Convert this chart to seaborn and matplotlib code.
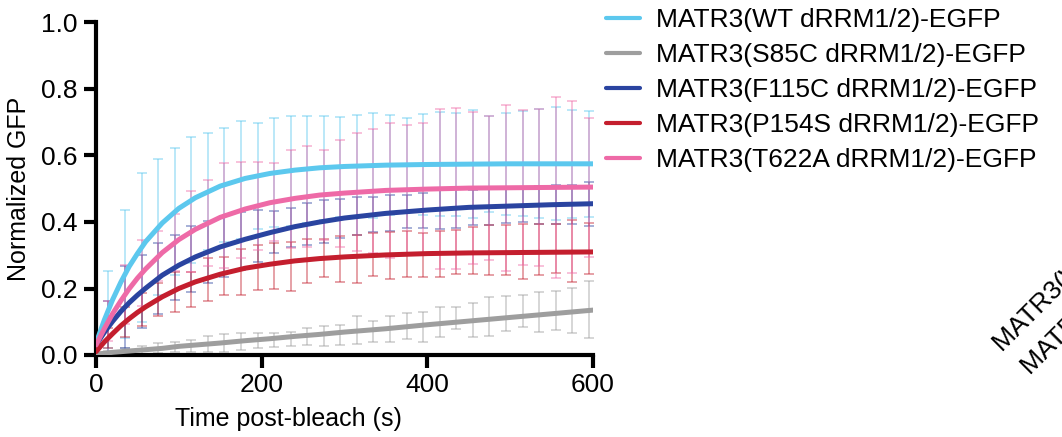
#!/usr/bin/env python3

import pandas as pd
from matplotlib import pyplot as plt
from matplotlib.ticker import FormatStrFormatter
import seaborn as sns


time_title = "Time post-bleach (s)"
gfp_title = "Normalized GFP"
construct_title = "Construct"

constructs = [
    "MATR3(WT dRRM1/2)-EGFP",
    "MATR3(S85C dRRM1/2)-EGFP",
    "MATR3(F115C dRRM1/2)-EGFP",
    "MATR3(P154S dRRM1/2)-EGFP",
    "MATR3(T622A dRRM1/2)-EGFP",
]
construct_colors = ["#5CC8EE", "#9E9E9E", "#2A44A0", "#C41E2E", "#EE6AA7"]

# fitted recovery curves
fit_time = [0, 10, 20, 30, 40, 50, 60, 80, 100, 120, 150, 180, 210, 240, 270,
            300, 350, 400, 450, 500, 550, 600]
wt_fit = [0.035, 0.105, 0.166, 0.219, 0.266, 0.305, 0.341, 0.397, 0.441, 0.473,
          0.508, 0.531, 0.546, 0.556, 0.563, 0.567, 0.571, 0.573, 0.574, 0.575,
          0.575, 0.575]
s85c_fit = [0.003, 0.005, 0.008, 0.010, 0.012, 0.014, 0.016, 0.020, 0.026, 0.030,
            0.036, 0.043, 0.049, 0.056, 0.062, 0.069, 0.079, 0.091, 0.102, 0.113,
            0.124, 0.135]
f115c_fit = [0.030, 0.068, 0.101, 0.131, 0.157, 0.180, 0.201, 0.240, 0.270, 0.295,
             0.325, 0.348, 0.368, 0.386, 0.400, 0.412, 0.426, 0.436, 0.444, 0.448,
             0.452, 0.455]
p154s_fit = [0.010, 0.039, 0.064, 0.088, 0.109, 0.128, 0.145, 0.175, 0.200, 0.220,
             0.243, 0.261, 0.273, 0.283, 0.290, 0.295, 0.301, 0.305, 0.307, 0.308,
             0.309, 0.310]
t622a_fit = [0.030, 0.079, 0.124, 0.163, 0.199, 0.231, 0.259, 0.308, 0.347, 0.378,
             0.414, 0.439, 0.458, 0.471, 0.481, 0.487, 0.495, 0.499, 0.502, 0.503,
             0.504, 0.505]

# measured points (mean +/- SD)
bar_time = [15, 35, 55, 75, 95, 115, 135, 155, 175, 195, 215, 235, 255, 275, 295,
            315, 335, 355, 375, 395, 415, 435, 455, 475, 495, 515, 535, 555, 575, 595]
wt_mean = [0.137, 0.243, 0.323, 0.384, 0.431, 0.466, 0.492, 0.512, 0.527, 0.539,
           0.548, 0.554, 0.559, 0.563, 0.566, 0.568, 0.570, 0.571, 0.572, 0.573,
           0.574, 0.574, 0.575, 0.575, 0.575, 0.575, 0.575, 0.575, 0.575, 0.575]
wt_sd = [0.117, 0.193, 0.223, 0.205, 0.191, 0.189, 0.177, 0.172, 0.178, 0.160,
         0.164, 0.165, 0.161, 0.157, 0.151, 0.154, 0.159, 0.151, 0.142, 0.151,
         0.156, 0.155, 0.162, 0.145, 0.154, 0.158, 0.164, 0.170, 0.162, 0.159]
s85c_mean = [0.005, 0.010, 0.015, 0.020, 0.023, 0.027, 0.032, 0.036, 0.040, 0.043,
             0.045, 0.048, 0.055, 0.058, 0.060, 0.075, 0.070, 0.078, 0.087, 0.085,
             0.100, 0.111, 0.105, 0.115, 0.125, 0.133, 0.130, 0.133, 0.133, 0.137]
s85c_sd = [0.006, 0.010, 0.012, 0.015, 0.015, 0.017, 0.024, 0.028, 0.025, 0.022,
           0.020, 0.022, 0.026, 0.030, 0.030, 0.042, 0.032, 0.038, 0.038, 0.045,
           0.045, 0.034, 0.050, 0.058, 0.052, 0.048, 0.060, 0.058, 0.068, 0.087]
f115c_mean = [0.085, 0.145, 0.190, 0.230, 0.263, 0.289, 0.310, 0.327, 0.344, 0.358,
              0.371, 0.383, 0.394, 0.402, 0.410, 0.417, 0.422, 0.427, 0.431, 0.435,
              0.438, 0.441, 0.444, 0.446, 0.448, 0.449, 0.451, 0.452, 0.453, 0.454]
f115c_sd = [0.078, 0.124, 0.110, 0.106, 0.098, 0.099, 0.094, 0.092, 0.087, 0.078,
            0.063, 0.058, 0.064, 0.064, 0.059, 0.057, 0.052, 0.054, 0.050, 0.053,
            0.060, 0.060, 0.052, 0.055, 0.050, 0.049, 0.057, 0.059, 0.058, 0.067]
p154s_mean = [0.052, 0.099, 0.137, 0.168, 0.190, 0.198, 0.227, 0.237, 0.249, 0.262,
              0.268, 0.266, 0.282, 0.292, 0.289, 0.289, 0.303, 0.300, 0.303, 0.300,
              0.303, 0.310, 0.315, 0.316, 0.316, 0.311, 0.318, 0.320, 0.313, 0.320]
p154s_sd = [0.030, 0.045, 0.050, 0.050, 0.060, 0.053, 0.064, 0.057, 0.069, 0.068,
            0.070, 0.073, 0.066, 0.058, 0.069, 0.073, 0.064, 0.071, 0.069, 0.066,
            0.069, 0.066, 0.071, 0.075, 0.075, 0.083, 0.077, 0.074, 0.093, 0.077]
t622a_mean = [0.102, 0.182, 0.246, 0.297, 0.338, 0.371, 0.397, 0.419, 0.436, 0.449,
              0.460, 0.469, 0.477, 0.482, 0.486, 0.490, 0.493, 0.495, 0.497, 0.499,
              0.500, 0.501, 0.502, 0.503, 0.503, 0.504, 0.504, 0.504, 0.505, 0.505]
t622a_sd = [0.060, 0.090, 0.100, 0.075, 0.085, 0.122, 0.129, 0.158, 0.144, 0.132,
            0.118, 0.148, 0.152, 0.135, 0.161, 0.177, 0.187, 0.202, 0.195, 0.198,
            0.240, 0.243, 0.228, 0.216, 0.249, 0.233, 0.235, 0.271, 0.258, 0.209]


def get_fit_df():
    fits = [wt_fit, s85c_fit, f115c_fit, p154s_fit, t622a_fit]
    data_dict = {time_title: [], gfp_title: [], construct_title: []}
    for construct, fit in zip(constructs, fits):
        data_dict[time_title] += fit_time
        data_dict[gfp_title] += fit
        data_dict[construct_title] += [construct] * len(fit)
    return pd.DataFrame(data_dict)


def gen_frap_fig():
    sns.set_theme(
        style="ticks",
        rc={"text.color": "black", "axes.labelcolor": "black",
            "xtick.color": "black", "ytick.color": "black"},
    )
    plt.rcParams["font.family"] = ["Liberation Sans", "DejaVu Sans"]

    fig = plt.figure(figsize=(10.62, 4.37), dpi=100)
    ax = fig.add_axes([96 / 1062, 82 / 437, 497 / 1062, 332.5 / 437])

    means = [wt_mean, s85c_mean, f115c_mean, p154s_mean, t622a_mean]
    sds = [wt_sd, s85c_sd, f115c_sd, p154s_sd, t622a_sd]
    for mean, sd, color in zip(means, sds, construct_colors):
        ax.errorbar(bar_time, mean, yerr=sd, fmt="none", ecolor=color, alpha=0.45,
                    elinewidth=1.3, capsize=3.5, capthick=1.3, zorder=1)

    palette = dict(zip(constructs, construct_colors))
    sns.lineplot(data=get_fit_df(), x=time_title, y=gfp_title, hue=construct_title,
                 hue_order=constructs, palette=palette, linewidth=3.6, ax=ax,
                 zorder=3)

    ax.set_xlim(0, 600)
    ax.set_ylim(0, 1.0)
    ax.set_xticks([0, 200, 400, 600])
    ax.set_yticks([0.0, 0.2, 0.4, 0.6, 0.8, 1.0])
    ax.yaxis.set_major_formatter(FormatStrFormatter("%.1f"))
    sns.despine(ax=ax)
    for side in ["left", "bottom"]:
        ax.spines[side].set_linewidth(3)
        ax.spines[side].set_color("black")
    ax.tick_params(length=9, width=3, labelsize=19, pad=4, color="black",
                   labelcolor="black")

    ax.set_xlabel(time_title, fontsize=18, color="black")
    ax.set_ylabel(gfp_title, fontsize=18, color="black")
    ax.xaxis.set_label_coords(0.388, -0.155)
    ax.yaxis.set_label_coords(-0.13, 0.5)

    handles, labels = ax.get_legend_handles_labels()
    for h in handles:
        h.set_linewidth(3)
    ax.legend(handles, labels, loc="upper left",
              bbox_to_anchor=(606 / 1062, 1 - 8 / 437),
              bbox_transform=fig.transFigure, frameon=False, fontsize=19,
              handlelength=1.3, handletextpad=0.6, labelspacing=0.42,
              borderpad=0, borderaxespad=0, labelcolor="black")

    # tick labels of the neighbouring panel, cut by the figure edge
    fig.text(1002 / 1062, 1 - 352 / 437, constructs[0], rotation=45,
             rotation_mode="anchor", ha="left", va="baseline", fontsize=19,
             color="black")
    fig.text(1030 / 1062, 1 - 375 / 437, constructs[1], rotation=45,
             rotation_mode="anchor", ha="left", va="baseline", fontsize=19,
             color="black")

    fig.savefig("out.png", dpi=100)


if __name__ == "__main__":
    gen_frap_fig()
